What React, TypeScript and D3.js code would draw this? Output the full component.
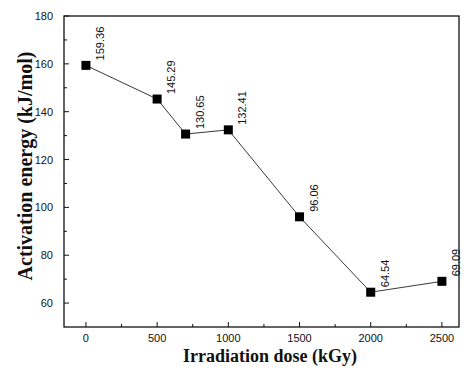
import React from "react";
import * as d3 from "d3";

// Irradiation dose (kGy) vs. activation energy (kJ/mol)
const doses = [0, 500, 700, 1000, 1500, 2000, 2500];
const energies = [159.36, 145.29, 130.65, 132.41, 96.06, 64.54, 69.09];
const energyLabels = ["159.36", "145.29", "130.65", "132.41", "96.06", "64.54", "69.09"];
const xTicks = [0, 500, 1000, 1500, 2000, 2500];
const yTicks = [60, 80, 100, 120, 140, 160, 180];

const W = 466;
const H = 370;
const plot = { left: 64, right: 459, top: 16, bottom: 327 };

export default function App() {
  const x = d3.scaleLinear().domain([-154, 2620]).range([plot.left, plot.right]);
  const y = d3.scaleLinear().domain([50, 180]).range([plot.bottom, plot.top]);

  const line = d3
    .line<number>()
    .x((_, i) => x(doses[i]))
    .y((d) => y(d));

  const xMinor = d3.range(250, 2600, 500);
  const yMinor = d3.range(70, 180, 20);

  return (
    <svg
      width={W}
      height={H}
      style={{ position: "absolute", left: 0, top: 0, background: "#fff" }}
      fontFamily="Liberation Sans, Arial, sans-serif"
    >
      {/* frame */}
      <rect
        x={plot.left}
        y={plot.top}
        width={plot.right - plot.left}
        height={plot.bottom - plot.top}
        fill="none"
        stroke="#111"
        strokeWidth={1.3}
      />

      {/* x ticks */}
      {xTicks.map((t) => (
        <g key={"xt" + t}>
          <line x1={x(t)} x2={x(t)} y1={plot.bottom} y2={plot.bottom - 5} stroke="#111" strokeWidth={1} />
          <text x={x(t)} y={plot.bottom + 15} fontSize={11} textAnchor="middle" fill="#111">
            {t}
          </text>
        </g>
      ))}
      {xMinor.map((t) => (
        <line key={"xm" + t} x1={x(t)} x2={x(t)} y1={plot.bottom} y2={plot.bottom - 3} stroke="#111" strokeWidth={1} />
      ))}

      {/* y ticks */}
      {yTicks.map((t) => (
        <g key={"yt" + t}>
          <line x1={plot.left} x2={plot.left + 5} y1={y(t)} y2={y(t)} stroke="#111" strokeWidth={1} />
          <text x={plot.left - 11} y={y(t) + 4} fontSize={11} textAnchor="end" fill="#111">
            {t}
          </text>
        </g>
      ))}
      {yMinor.map((t) => (
        <line key={"ym" + t} x1={plot.left} x2={plot.left + 3} y1={y(t)} y2={y(t)} stroke="#111" strokeWidth={1} />
      ))}

      {/* axis titles */}
      <text
        x={270}
        y={362}
        fontSize={18}
        fontWeight="bold"
        fontFamily="Liberation Serif, Times New Roman, serif"
        textAnchor="middle"
        fill="#111"
      >
        Irradiation dose (kGy)
      </text>
      <text
        transform="translate(32, 166) rotate(-90)"
        fontSize={20}
        fontWeight="bold"
        fontFamily="Liberation Serif, Times New Roman, serif"
        textAnchor="middle"
        fill="#111"
      >
        Activation energy (kJ/mol)
      </text>

      {/* series */}
      <path d={line(energies) ?? ""} fill="none" stroke="#222" strokeWidth={0.9} />
      {energies.map((e, i) => (
        <rect key={"m" + i} x={x(doses[i]) - 4.5} y={y(e) - 4.5} width={9} height={9} fill="#000" />
      ))}
      {energies.map((e, i) => (
        <text
          key={"l" + i}
          transform={`translate(${x(doses[i]) + 18}, ${y(e) - 5}) rotate(-90)`}
          fontSize={11}
          fill="#111"
        >
          {energyLabels[i]}
        </text>
      ))}
    </svg>
  );
}
